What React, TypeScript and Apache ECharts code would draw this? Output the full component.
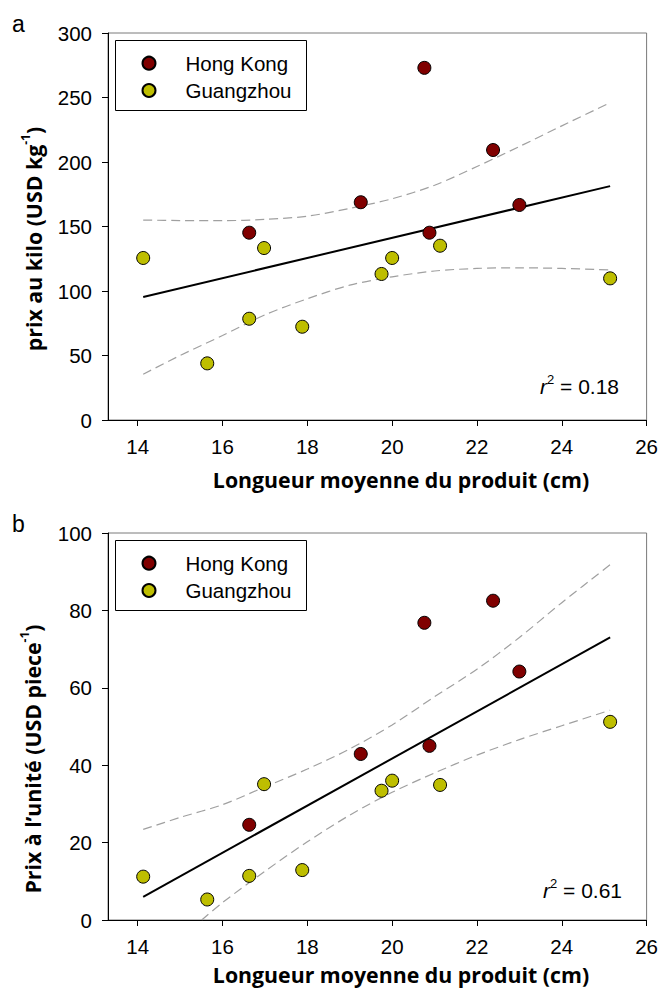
import React, { useEffect, useRef } from 'react';
import * as echarts from 'echarts';

// ---- data ----
const seriesNames = ['Hong Kong', 'Guangzhou'];
const hkLength = [20.76, 22.38, 19.26, 23.0, 16.63, 20.88];
const gzLength = [14.13, 16.98, 16.63, 17.88, 15.64, 19.75, 20.0, 21.13, 25.14];

const hkPerKilo = [273, 209.3, 168.8, 166.7, 145.2, 145.2];
const gzPerKilo = [125.6, 133.3, 78.5, 72.3, 43.9, 113.2, 125.6, 135.1, 109.8];

const hkPerPiece = [76.8, 82.5, 42.9, 64.2, 24.6, 45.0];
const gzPerPiece = [11.2, 35.1, 11.4, 12.9, 5.3, 33.4, 36.0, 34.9, 51.2];

const fitX = [14.13, 25.14];
const kiloFit = [95.4, 181.3];
const pieceFit = [6.0, 73.0];

const ciX = [14.13, 15, 16, 17, 18, 19, 20, 21, 22, 23, 24, 25.14];
const kiloUpper = [155, 154.6, 154.5, 155.5, 158, 164, 171.5, 182, 196.5, 212, 228, 246];
const kiloLower = [35.5, 50, 65.5, 81.5, 94, 104.5, 111, 115.5, 117.5, 118, 117.5, 116.3];
const pieceUpper = [23.4, 26.5, 29.8, 34.4, 39, 44.2, 50.4, 57.7, 64.8, 73, 82, 91.8];
const pieceLowerX = [15.51, 16, 17, 18, 19, 20, 21, 22, 23, 24, 25.14];
const pieceLower = [0, 4.5, 12.6, 20.2, 27.1, 33.0, 38.0, 42.6, 46.6, 50.2, 54.2];

const xTicks = [14, 16, 18, 20, 22, 24, 26];
const kiloTicks = { min: 0, max: 300, interval: 50 };
const pieceTicks = { min: 0, max: 100, interval: 20 };

const xTitle = 'Longueur moyenne du produit (cm)';
const r2Kilo = '0.18';
const r2Piece = '0.61';

// ---- styles ----
const tickFont = '"Liberation Sans", Arial, sans-serif';
const titleFont = '"Open Sans", "Noto Sans", sans-serif';
const HK_COLOR = '#800000';
const GZ_COLOR = '#BEBE00';
const TICK_SIZE = 20.5;
const TITLE_SIZE = 21.3;

const zip = (xs: number[], ys: number[]) => xs.map((x, i) => [x, ys[i]]);

function xAxis(gridIndex: number) {
  return {
    type: 'value',
    gridIndex,
    min: 13.3,
    max: 26,
    axisLine: { show: true, onZero: false, lineStyle: { color: '#000', width: 1 } },
    axisTick: { show: true, inside: false, length: 6, lineStyle: { color: '#000' }, customValues: xTicks },
    axisLabel: { customValues: xTicks, margin: 16, fontSize: TICK_SIZE, color: '#000', fontFamily: tickFont },
    splitLine: { show: false },
  };
}

function yAxis(gridIndex: number, t: { min: number; max: number; interval: number }) {
  return {
    type: 'value',
    gridIndex,
    min: t.min,
    max: t.max,
    interval: t.interval,
    axisLine: { show: true, onZero: false, lineStyle: { color: '#000', width: 1 } },
    axisTick: { show: true, inside: false, length: 6, lineStyle: { color: '#000' } },
    axisLabel: { margin: 16, fontSize: TICK_SIZE, color: '#000', fontFamily: tickFont },
    splitLine: { show: false },
  };
}

function panelSeries(idx: number, hk: number[], gz: number[], fit: number[], upX: number[], up: number[], loX: number[], lo: number[]) {
  const base = { xAxisIndex: idx, yAxisIndex: idx };
  const dashed = {
    type: 'line', ...base, showSymbol: false, symbol: 'none', smooth: 0.3, silent: true, z: 3,
    lineStyle: { color: '#a0a0a0', width: 1.2, type: [9, 5] },
  };
  return [
    { ...dashed, name: 'upper' + idx, data: zip(upX, up) },
    { ...dashed, name: 'lower' + idx, data: zip(loX, lo) },
    {
      type: 'line', ...base, name: 'fit' + idx, showSymbol: false, symbol: 'none', silent: true, z: 4,
      lineStyle: { color: '#000', width: 2 }, data: zip(fitX, fit),
    },
    {
      type: 'scatter', ...base, name: seriesNames[0], symbol: 'circle', symbolSize: 13, z: 5,
      itemStyle: { color: HK_COLOR, borderColor: '#000', borderWidth: 1, opacity: 1 },
      data: zip(hkLength, hk),
    },
    {
      type: 'scatter', ...base, name: seriesNames[1], symbol: 'circle', symbolSize: 13, z: 5,
      itemStyle: { color: GZ_COLOR, borderColor: '#000', borderWidth: 1, opacity: 1 },
      data: zip(gzLength, gz),
    },
  ];
}

function legend(top: number) {
  return {
    data: seriesNames,
    orient: 'vertical',
    left: 141.5,
    top,
    padding: 0,
    icon: 'circle',
    itemWidth: 63,
    itemHeight: 13,
    itemGap: 6.3,
    selectedMode: false,
    z: 10,
    textStyle: { fontSize: TICK_SIZE, fontFamily: tickFont, color: '#000', lineHeight: 20 },
  };
}

const titleRich = {
  t: { fontFamily: titleFont, fontWeight: 'bold', fontSize: TITLE_SIZE, lineHeight: 28, fill: '#000' },
  s: { fontFamily: titleFont, fontWeight: 'bold', fontSize: 12, lineHeight: 15, verticalAlign: 'top', fill: '#000' },
};
const r2Rich = {
  i: { fontFamily: tickFont, fontStyle: 'italic', fontSize: 21, lineHeight: 26, fill: '#000' },
  s: { fontFamily: tickFont, fontSize: 13, lineHeight: 14, verticalAlign: 'top', fill: '#000' },
  n: { fontFamily: tickFont, fontSize: 21, lineHeight: 26, fill: '#000' },
};

function buildOption() {
  return {
    animation: false,
    backgroundColor: '#fff',
    grid: [
      { left: 108, top: 33, width: 539, height: 387, show: true, borderColor: '#7a7a7a', borderWidth: 1, backgroundColor: 'transparent' },
      { left: 108, top: 533, width: 539, height: 387, show: true, borderColor: '#7a7a7a', borderWidth: 1, backgroundColor: 'transparent' },
    ],
    xAxis: [xAxis(0), xAxis(1)],
    yAxis: [yAxis(0, kiloTicks), yAxis(1, pieceTicks)],
    legend: [legend(52.7), legend(552.7)],
    series: [
      ...panelSeries(0, hkPerKilo, gzPerKilo, kiloFit, ciX, kiloUpper, ciX, kiloLower),
      ...panelSeries(1, hkPerPiece, gzPerPiece, pieceFit, ciX, pieceUpper, pieceLowerX, pieceLower),
    ],
    graphic: [
      { type: 'rect', z: 1, shape: { x: 115.5, y: 40.5, width: 191, height: 70 }, style: { fill: '#fff', stroke: '#000', lineWidth: 1 } },
      { type: 'rect', z: 1, shape: { x: 115.5, y: 540.5, width: 191, height: 70 }, style: { fill: '#fff', stroke: '#000', lineWidth: 1 } },
      { type: 'text', x: 12, y: 23.7, style: { text: 'a', fontFamily: tickFont, fontSize: 23, fill: '#000', align: 'left', verticalAlign: 'middle' } },
      { type: 'text', x: 12, y: 524.3, style: { text: 'b', fontFamily: tickFont, fontSize: 23, fill: '#000', align: 'left', verticalAlign: 'middle' } },
      { type: 'text', x: 401, y: 479, style: { text: xTitle, fontFamily: titleFont, fontWeight: 'bold', fontSize: TITLE_SIZE, fill: '#000', align: 'center', verticalAlign: 'middle' } },
      { type: 'text', x: 401, y: 974, style: { text: xTitle, fontFamily: titleFont, fontWeight: 'bold', fontSize: TITLE_SIZE, fill: '#000', align: 'center', verticalAlign: 'middle' } },
      {
        type: 'text', x: 33, y: 239, rotation: Math.PI / 2,
        style: { text: '{t|prix au kilo (USD kg}{s|-1}{t|)}', rich: titleRich, align: 'center', verticalAlign: 'middle' },
      },
      {
        type: 'text', x: 32, y: 759, rotation: Math.PI / 2,
        style: { text: '{t|Prix à l’unité (USD piece}{s|-1}{t|)}', rich: titleRich, align: 'center', verticalAlign: 'middle' },
      },
      {
        type: 'text', x: 540, y: 386.3,
        style: { text: '{i|r}{s|2}{n| = ' + r2Kilo + '}', rich: r2Rich, align: 'left', verticalAlign: 'middle' },
      },
      {
        type: 'text', x: 543, y: 890.3,
        style: { text: '{i|r}{s|2}{n| = ' + r2Piece + '}', rich: r2Rich, align: 'left', verticalAlign: 'middle' },
      },
    ],
  };
}

export default function App() {
  const ref = useRef<HTMLDivElement>(null);
  useEffect(() => {
    if (!ref.current) return;
    const chart = echarts.init(ref.current, null, { renderer: 'svg' });
    chart.setOption(buildOption() as any);
    return () => chart.dispose();
  }, []);
  return (
    <div
      ref={ref}
      style={{ position: 'fixed', left: 0, top: 0, width: 661, height: 992, background: '#fff' }}
    />
  );
}
